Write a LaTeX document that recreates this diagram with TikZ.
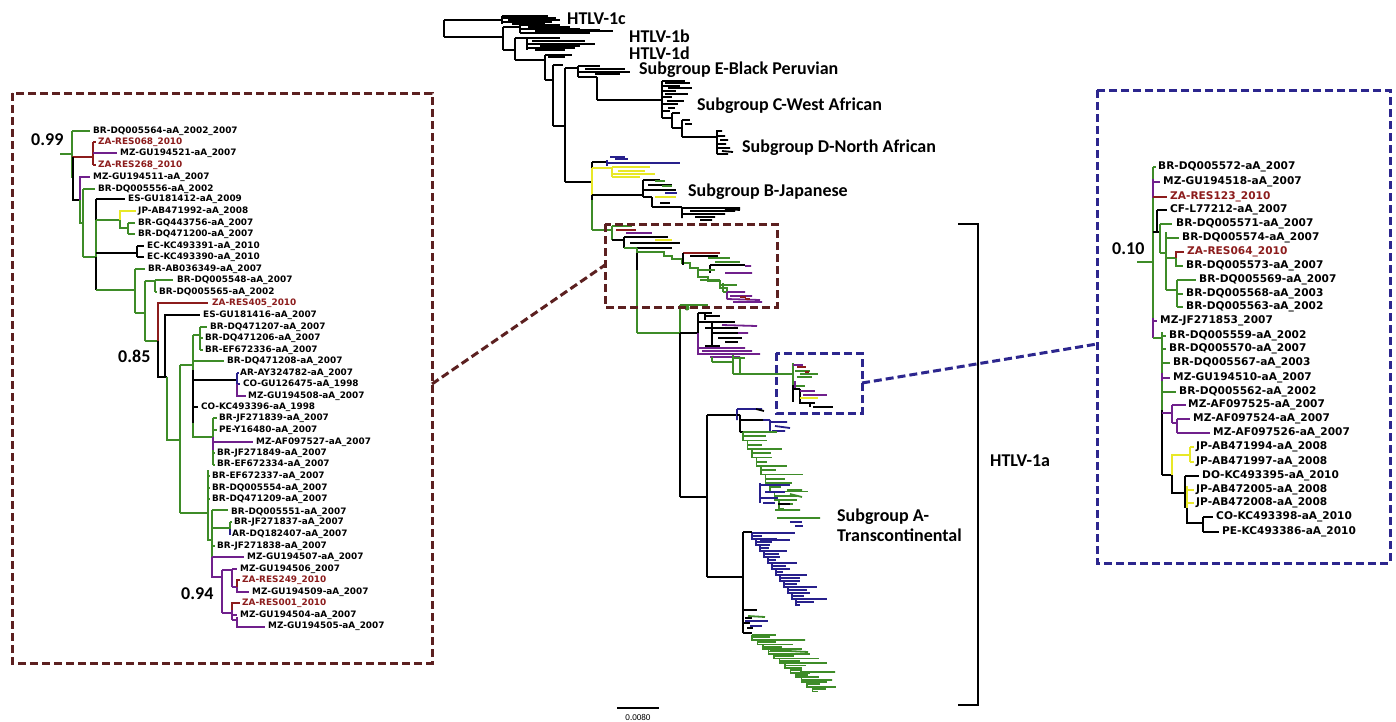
\documentclass[tikz,border=0pt]{standalone}
\usepackage{fontspec}
\newfontfamily\tipfont{DejaVu Sans}
\newfontfamily\labfont{Carlito}
\definecolor{tgreen}{RGB}{62,140,40}
\definecolor{tpurple}{RGB}{112,32,140}
\definecolor{tred}{RGB}{140,28,28}
\definecolor{tyellow}{RGB}{232,232,40}
\definecolor{tblue}{RGB}{40,32,140}
\definecolor{boxbrown}{RGB}{92,32,32}
\definecolor{boxblue}{RGB}{44,38,142}
\tikzset{
  kb/.style={draw=black,line width=1.5pt},
  gb/.style={draw=tgreen,line width=1.5pt},
  pb/.style={draw=tpurple,line width=1.5pt},
  rb/.style={draw=tred,line width=1.5pt},
  yb/.style={draw=tyellow,line width=1.5pt},
  bb/.style={draw=tblue,line width=1.5pt},
  km/.style={draw=black,line width=1.8pt},
  gm/.style={draw=tgreen,line width=1.8pt},
  pm/.style={draw=tpurple,line width=1.8pt},
  rm/.style={draw=tred,line width=1.8pt},
  ym/.style={draw=tyellow,line width=1.8pt},
  bm/.style={draw=tblue,line width=1.8pt},
  tipL/.style={font=\tipfont\bfseries\fontsize{8.9}{10}\selectfont,anchor=west,inner sep=0pt},
  tipR/.style={font=\tipfont\bfseries\fontsize{10.6}{12}\selectfont,anchor=west,inner sep=0pt},
  grp/.style={font=\labfont\bfseries\fontsize{18}{20}\selectfont,anchor=west,inner sep=0pt},
  boot/.style={font=\labfont\bfseries\fontsize{18}{20}\selectfont,anchor=west,inner sep=0pt},
  dashbox/.style={line width=3pt,dash pattern=on 8pt off 4pt},
}
\newcommand{\phyladder}[8]{%
  \foreach \i in {1,...,#4}{%
    \pgfmathsetmacro\lxa{#2+(\i-1)*#5}%
    \pgfmathsetmacro\lya{#3+(\i-1)*#6}%
    \pgfmathsetmacro\lxb{#2+\i*#5}%
    \pgfmathsetmacro\lyb{#3+\i*#6}%
    \pgfmathsetmacro\lym{#3+(\i-0.5)*#6}%
    \pgfmathsetmacro\ltl{#7+mod(\i*37+11,#8)}%
    \pgfmathsetmacro\lts{0.5*\ltl+mod(\i*13,7)}%
    \draw[#1] (\lxa,\lya) -- (\lxa,\lyb) -- (\lxb,\lyb);%
    \draw[#1] (\lxa,\lya) -- ++(\ltl,0);%
    \draw[#1] (\lxa,\lym) -- ++(\lts,0);%
  }%
}
\begin{document}
\begin{tikzpicture}[x=1pt,y=-1pt]
\useasboundingbox (0,0) rectangle (1396,721);
\fill[white] (0,0) rectangle (1396,721);

% ================= MAIN TREE =================
\draw[km] (444,20)--(444,37) (444,20)--(502,20) (444,37)--(503,37);
\draw[km] (502,16)--(502,24) (502,16)--(548,16) (502,18)--(556,18) (508,20)--(560,20) (502,22)--(552,22) (512,24)--(545,24);
\draw[km] (503,27)--(503,50) (503,27)--(520,27) (520,25)--(520,33) (520,25)--(560,25) (528,27)--(570,27) (520,29)--(580,29) (535,31)--(613,31) (520,33)--(590,33) (545,30)--(600,30);
\draw[km] (503,50)--(515,50) (515,38)--(515,60) (515,38)--(527,38) (527,38)--(527,50) (527,38)--(560,38) (532,41)--(585,41) (527,44)--(595,44) (540,46)--(580,46) (527,48)--(575,48) (535,50)--(565,50);
\draw[km] (515,60)--(545,60) (545,55)--(545,80) (545,55)--(572,55) (548,57)--(565,57) (545,80)--(553,80) (553,65)--(553,126) (553,65)--(563,65) (553,126)--(565,126) (565,68)--(565,182) (565,68)--(578,68) (565,182)--(592,182);
\draw[km] (578,66)--(578,77) (578,66)--(600,66) (585,69)--(625,69) (578,72)--(630,72) (595,74)--(620,74) (578,77)--(597,77) (597,77)--(597,100) (597,100)--(662,100);
\draw[km] (662,81)--(662,118) (662,81)--(685,81) (665,83)--(690,83) (662,86)--(680,86) (668,88)--(692,88) (662,91)--(676,91) (665,94)--(688,94) (662,97)--(672,97) (667,101)--(684,101) (662,104)--(678,104) (668,108)--(675,108) (662,111)--(670,111) (662,118)--(672,118) (672,113)--(672,128) (672,113)--(680,113) (672,128)--(682,128) (682,120)--(682,137) (682,120)--(690,120) (685,124)--(692,124) (682,137)--(717,137);
\draw[km] (717,130)--(717,154) (717,131)--(722,131) (717,136)--(725,136) (720,140)--(728,140) (717,144)--(726,144) (717,148)--(730,148) (722,151)--(733,152) (717,154)--(728,154);
% subgroup B
\draw[km] (592,162)--(592,200) (592,162)--(607,162);
\draw[gm] (592,200)--(592,230);
\draw[bm] (607,163)--(680,163) (610,157)--(625,157) (615,159)--(628,159) (607,160)--(607,166);
\draw[ym] (592,168)--(612,168) (612,167)--(612,177) (612,167)--(650,167) (618,171)--(645,171) (612,174)--(655,174) (612,177)--(640,177) (592,168)--(592,195);
\draw[km] (592,195)--(643,195) (643,180)--(643,197) (643,180)--(660,180) (648,185)--(672,185) (643,190)--(676,190) (652,197)--(652,207) (643,197)--(652,197) (652,207)--(682,207) (660,203)--(670,203);
\draw[gm] (655,181)--(665,181) (662,186)--(672,186);
\draw[bm] (665,193)--(677,193);
\draw[ym] (655,197)--(676,197);
\draw[km] (682,207)--(682,218) (682,208)--(740,208) (690,211)--(735,211) (682,214)--(725,214) (695,217)--(715,217) (700,220)--(712,220) (725,209)--(740,210);
% subgroup A: brown rectangle part
\draw[gm] (592,230)--(612,230) (612,226)--(612,240) (612,226)--(632,226);
\draw[rm] (616,230)--(636,230);
\draw[pm] (626,233)--(652,233);
\draw[km] (612,240)--(624,240) (624,237)--(624,248) (624,237)--(668,237) (630,243)--(680,243) (624,248)--(672,248);
\draw[ym] (655,240)--(672,240);
\draw[gm] (624,248)--(637,248) (637,248)--(637,333) (637,252) -| (664,256) -| (672,259) -| (682,263) -| (690,268) -| (698,277) -| (708,281) -| (720,288) -| (727,292);
\draw[km] (637,253)--(637,270);
\draw[rm] (683,253)--(720,253);
\draw[km] (683,253)--(683,265) (690,256)--(718,256) (710,265)--(745,265) (710,265)--(710,273);
\draw[gm] (708,258)--(730,258) (715,262)--(740,262) (700,280)--(720,280) (720,285)--(737,285) (723,283)--(723,292) (723,292)--(737,292) (698,270)--(715,270);
\draw[pm] (745,266)--(751,266) (725,273)--(752,273) (727,292)--(727,299) (727,292)--(745,292) (730,296)--(752,296) (727,299)--(760,300) (733,302)--(762,302);
\draw[rm] (740,297)--(746,297) (745,299)--(750,299);
% middle part
\draw[gm] (637,333)--(680,333) (680,305)--(680,333) (680,305)--(708,305);
\fill[tgreen] (687,308) circle (2.5);
\draw[km] (680,333)--(698,333) (698,313)--(698,333) (680,333)--(680,497);
\draw[pm] (698,333)--(698,355);
\draw[km] (698,313)--(712,313) (705,313)--(705,320) (705,316)--(720,316) (698,322)--(735,322) (705,328)--(738,328) (712,333)--(745,333) (718,338)--(742,338) (725,342)--(738,342) (712,322)--(712,345) (705,346)--(720,346);
\draw[pm] (722,325)--(757,326) (738,333)--(748,333) (698,348)--(745,348) (702,351)--(752,351) (698,354)--(760,354) (710,357)--(740,357);
\draw[gm] (712,357)--(712,362) (712,362)--(733,362) (733,355)--(733,374) (740,358)--(740,374) (733,358)--(745,358) (733,374)--(793,374);
% clade in blue rectangle
\draw[gm] (793,363)--(793,385) (795,371)--(810,371) (800,374)--(818,374) (797,377)--(812,377) (795,386)--(805,386);
\draw[km] (793,385)--(793,402) (800,389)--(800,404) (793,389)--(800,389) (800,403)--(815,403) (810,403)--(810,407) (813,407)--(833,407);
\draw[pm] (793,365)--(803,365) (795,381)--(795,388) (800,391)--(815,391) (803,395)--(827,395);
\draw[rm] (797,367)--(806,367) (805,372)--(809,372);
\draw[ym] (800,398)--(818,398);
% lower part of subgroup A
\draw[km] (680,497)--(707,497) (707,415)--(707,577) (707,415)--(737,415) (707,577)--(743,577) (743,532)--(743,633);
\draw[bm] (737,409)--(737,420) (737,409)--(762,409) (770,420)--(770,432) (763,420)--(770,420) (770,422)--(787,422) (775,426)--(790,428) (772,431)--(785,431);
\draw[km] (756,409)--(764,411) (737,415)--(740,415) (740,415)--(740,432) (740,420)--(763,420) (740,432)--(743,432);
\phyladder{gm}{743}{432}{9}{4.5}{8.5}{12}{26}
\draw[bm] (760,483)--(760,503) (760,485)--(790,485) (765,492)--(785,492) (760,498)--(778,498) (763,503)--(775,503) (790,522)--(802,522) (795,526)--(803,526);
\draw[km] (778,504)--(790,504);
\draw[gm] (775,510)--(800,510) (777,518)--(820,518) (787,490)--(802,490) (790,494)--(802,497);
% blue clade
\draw[km] (743,532)--(752,532);
\phyladder{bm}{752}{533}{12}{4}{6}{8}{24}
\draw[bm] (752,533)--(795,533) (760,540)--(790,540);
% bottom
\draw[km] (743,610)--(757,610) (745,618)--(752,618) (743,623)--(750,623) (743,633)--(752,633) (747,628)--(753,628);
\draw[gm] (748,616)--(765,617);
\draw[bm] (745,621)--(768,621) (750,626)--(762,626);
\phyladder{gm}{752}{635}{12}{5.5}{4.7}{10}{34}
\draw[gm] (760,640)--(805,640) (770,650)--(808,652) (800,672)--(835,672) (810,680)--(832,680);

% HTLV-1a bracket
\draw[black,line width=2.5pt] (958,224)--(978,224)--(978,705)--(958,705);
% scale bar
\draw[black,line width=1.5pt] (617,708)--(659,708);
\node[font=\labfont\fontsize{9}{10}\selectfont,inner sep=0pt] (scale) at (638,717) {0.0080};

% main labels
\node[grp] (h1c) at (567,19) {HTLV-1c};
\node[grp] (h1b) at (629,36) {HTLV-1b};
\node[grp] (h1d) at (629,53) {HTLV-1d};
\node[grp] (sgE) at (639,70) {Subgroup E-Black Peruvian};
\node[grp] (sgC) at (697,106) {Subgroup C-West African};
\node[grp] (sgD) at (742,148) {Subgroup D-North African};
\node[grp] (sgB) at (688,192) {Subgroup B-Japanese};
\node[grp,align=left] (sgA) at (837,525) {Subgroup A-\\Transcontinental};
\node[grp] (h1a) at (990,461) {HTLV-1a};

% ================= BOXES =================
\draw[boxbrown,dashbox] (12,93) rectangle (432,663);
\draw[boxbrown,dashbox] (605,224) rectangle (777,307);
\draw[boxblue,dashbox] (1097,90) rectangle (1390,563);
\draw[boxblue,dashbox] (776,353) rectangle (862,413);
\coordinate (bigL) at (432,384);
\coordinate (smallL) at (605,265);
\coordinate (smallR) at (862,383);
\coordinate (bigR) at (1097,344);
\draw[boxbrown,dashbox] (bigL)--(smallL);
\draw[boxblue,dashbox] (smallR)--(bigR);

% ================= LEFT INSET =================
\draw[gb] (60,154)--(72,154) (72,131)--(72,178) (72,131)--(90,131);
\draw[rb] (72,157)--(93,157) (93,142)--(93,165) (93,142)--(96,142) (93,165)--(96,165);
\draw[pb] (93,153)--(117,153);
\draw[kb] (73,157)--(73,200)--(80,200);
\draw[pb] (80,200)--(80,177)--(90,177);
\draw[gb] (80,200)--(80,223)--(83,223) (83,189)--(83,257) (83,189)--(95,189) (83,257)--(96,257);
\draw[kb] (96,199)--(96,220) (96,257)--(96,290) (96,199)--(125,199);
\draw[gb] (96,220)--(96,257) (96,220)--(120,220)--(120,228)--(128,228) (128,223)--(128,234) (128,223)--(135,223) (128,234)--(135,234);
\draw[yb] (120,220)--(120,211)--(136,211);
\draw[kb] (96,253)--(137,253) (137,246)--(137,257) (137,246)--(144,246) (137,257)--(144,257);
\draw[gb] (96,290)--(135,290) (135,269)--(135,313) (135,269)--(145,269) (135,313)--(145,313) (145,281)--(145,341) (145,281)--(155,281) (155,280)--(155,292) (155,280)--(173,280) (155,292)--(157,292) (145,341)--(158,341);
\draw[rb] (158,341)--(158,303)--(208,303);
\draw[kb] (158,341)--(158,377)--(167,377) (165,377)--(165,315)--(200,315);
\draw[gb] (167,377)--(167,440)--(180,440) (180,365)--(180,513) (180,365)--(193,365) (193,335)--(193,370) (193,335)--(200,335) (200,327)--(200,350) (200,327)--(207,327) (200,338)--(203,338) (200,350)--(203,350) (193,361)--(224,361);
\draw[kb] (193,370)--(193,423) (193,380)--(237,380) (193,407)--(198,407);
\draw[bb] (237,373)--(237,384) (237,373)--(239,373) (237,384)--(240,384);
\draw[pb] (237,384)--(237,396)--(246,396);
\draw[gb] (193,423)--(193,437)--(213,437) (213,418)--(213,465) (213,418)--(217,418) (213,430)--(217,430) (213,453)--(215,453) (213,465)--(215,465);
\draw[pb] (213,437)--(213,450) (213,442)--(253,442);
\draw[gb] (180,513)--(208,513) (208,470)--(208,540)--(212,540) (208,476)--(210,476) (208,488)--(210,488) (208,499)--(210,499) (212,510)--(212,557) (212,510)--(228,510) (212,528)--(230,528) (230,522)--(230,529) (230,522)--(232,522) (212,546)--(215,546);
\draw[bb] (230,529)--(230,534)--(231,534);
\draw[pb] (212,557)--(212,577)--(222,577) (212,557)--(244,557) (222,570)--(222,613) (222,570)--(232,570) (232,569)--(232,587) (232,569)--(237,569) (232,587)--(237,587)--(237,592)--(249,592) (222,613)--(232,613) (232,610)--(232,620) (232,615)--(237,615) (232,620)--(237,620) (237,617)--(237,627)--(265,627);
\draw[rb] (237,587)--(237,580)--(240,580) (232,610)--(232,603)--(240,603);

\node[boot] (b99) at (31,140) {0.99};
\node[boot] (b85) at (118,356) {0.85};
\node[boot] (b94) at (181,594) {0.94};

\node[tipL] (L1) at (93,131) {BR-DQ005564-aA\_2002\_2007};
\node[tipL,text=tred] (L2) at (98,142) {ZA-RES068\_2010};
\node[tipL] (L3) at (120,153) {MZ-GU194521-aA\_2007};
\node[tipL,text=tred] (L4) at (98,165) {ZA-RES268\_2010};
\node[tipL] (L5) at (93,177) {MZ-GU194511-aA\_2007};
\node[tipL] (L6) at (98,189) {BR-DQ005556-aA\_2002};
\node[tipL] (L7) at (128,199) {ES-GU181412-aA\_2009};
\node[tipL] (L8) at (138,211) {JP-AB471992-aA\_2008};
\node[tipL] (L9) at (138,223) {BR-GQ443756-aA\_2007};
\node[tipL] (L10) at (138,234) {BR-DQ471200-aA\_2007};
\node[tipL] (L11) at (147,246) {EC-KC493391-aA\_2010};
\node[tipL] (L12) at (147,257) {EC-KC493390-aA\_2010};
\node[tipL] (L13) at (148,269) {BR-AB036349-aA\_2007};
\node[tipL] (L14) at (177,280) {BR-DQ005548-aA\_2007};
\node[tipL] (L15) at (159,292) {BR-DQ005565-aA\_2002};
\node[tipL,text=tred] (L16) at (212,303) {ZA-RES405\_2010};
\node[tipL] (L17) at (203,315) {ES-GU181416-aA\_2007};
\node[tipL] (L18) at (210,327) {BR-DQ471207-aA\_2007};
\node[tipL] (L19) at (205,338) {BR-DQ471206-aA\_2007};
\node[tipL] (L20) at (205,350) {BR-EF672336-aA\_2007};
\node[tipL] (L21) at (227,361) {BR-DQ471208-aA\_2007};
\node[tipL] (L22) at (240,373) {AR-AY324782-aA\_2007};
\node[tipL] (L23) at (243,384) {CO-GU126475-aA\_1998};
\node[tipL] (L24) at (248,396) {MZ-GU194508-aA\_2007};
\node[tipL] (L25) at (201,407) {CO-KC493396-aA\_1998};
\node[tipL] (L26) at (219,418) {BR-JF271839-aA\_2007};
\node[tipL] (L27) at (219,430) {PE-Y16480-aA\_2007};
\node[tipL] (L28) at (256,442) {MZ-AF097527-aA\_2007};
\node[tipL] (L29) at (217,453) {BR-JF271849-aA\_2007};
\node[tipL] (L30) at (217,464) {BR-EF672334-aA\_2007};
\node[tipL] (L31) at (212,476) {BR-EF672337-aA\_2007};
\node[tipL] (L32) at (212,488) {BR-DQ005554-aA\_2007};
\node[tipL] (L33) at (212,499) {BR-DQ471209-aA\_2007};
\node[tipL] (L34) at (231,512) {BR-DQ005551-aA\_2007};
\node[tipL] (L35) at (234,522) {BR-JF271837-aA\_2007};
\node[tipL] (L36) at (232,534) {AR-DQ182407-aA\_2007};
\node[tipL] (L37) at (217,546) {BR-JF271838-aA\_2007};
\node[tipL] (L38) at (247,557) {MZ-GU194507-aA\_2007};
\node[tipL] (L39) at (240,569) {MZ-GU194506\_2007};
\node[tipL,text=tred] (L40) at (242,580) {ZA-RES249\_2010};
\node[tipL] (L41) at (252,592) {MZ-GU194509-aA\_2007};
\node[tipL,text=tred] (L42) at (242,603) {ZA-RES001\_2010};
\node[tipL] (L43) at (240,615) {MZ-GU194504-aA\_2007};
\node[tipL] (L44) at (268,626) {MZ-GU194505-aA\_2007};

% ================= RIGHT INSET =================
\draw[gb] (1137,262)--(1153,262) (1153,167)--(1153,338) (1153,167)--(1156,167);
\draw[pb] (1153,179)--(1153,198) (1153,182)--(1160,182);
\draw[rb] (1153,197)--(1167,197);
\draw[kb] (1153,232)--(1160,232) (1157,210)--(1157,232) (1157,210)--(1167,210);
\draw[gb] (1160,224)--(1160,253) (1160,224)--(1172,224) (1160,253)--(1166,253) (1166,232)--(1166,290) (1166,238)--(1179,238) (1166,258)--(1176,258) (1176,258)--(1176,266)--(1183,266) (1166,290)--(1177,290) (1177,280)--(1177,307) (1177,280)--(1196,280) (1177,294)--(1183,294) (1177,307)--(1183,307);
\draw[rb] (1176,258)--(1176,252)--(1184,252);
\draw[pb] (1153,318)--(1153,338) (1153,321)--(1157,321);
\draw[gb] (1153,338)--(1162,338) (1162,332)--(1162,410) (1162,336)--(1166,336) (1162,349)--(1166,349) (1162,363)--(1170,363) (1162,392)--(1176,392);
\draw[pb] (1162,373)--(1162,381) (1162,378)--(1170,378);
\draw[kb] (1162,410)--(1162,475);
\draw[pb] (1162,413)--(1172,413) (1172,405)--(1172,423) (1172,405)--(1186,405) (1172,423)--(1177,423) (1177,419)--(1177,433) (1177,419)--(1190,419) (1177,433)--(1210,433);
\draw[kb] (1162,475)--(1172,475);
\draw[yb] (1172,475)--(1172,455)--(1190,455) (1190,447)--(1190,462) (1190,447)--(1194,447) (1190,462)--(1194,462);
\draw[kb] (1172,475)--(1172,493)--(1185,493) (1185,476)--(1185,508) (1185,476)--(1199,476) (1187,508)--(1187,523)--(1203,523) (1203,517)--(1203,532) (1203,517)--(1213,517) (1203,532)--(1219,532);
\draw[yb] (1187,486)--(1187,508) (1187,490)--(1194,490) (1187,503)--(1194,503);

\node[boot] (b10) at (1112,249) {0.10};

\node[tipR] (R1) at (1158,167) {BR-DQ005572-aA\_2007};
\node[tipR] (R2) at (1163,182) {MZ-GU194518-aA\_2007};
\node[tipR,text=tred] (R3) at (1170,197) {ZA-RES123\_2010};
\node[tipR] (R4) at (1170,210) {CF-L77212-aA\_2007};
\node[tipR] (R5) at (1176,224) {BR-DQ005571-aA\_2007};
\node[tipR] (R6) at (1182,238) {BR-DQ005574-aA\_2007};
\node[tipR,text=tred] (R7) at (1187,252) {ZA-RES064\_2010};
\node[tipR] (R8) at (1186,266) {BR-DQ005573-aA\_2007};
\node[tipR] (R9) at (1199,280) {BR-DQ005569-aA\_2007};
\node[tipR] (R10) at (1186,294) {BR-DQ005568-aA\_2003};
\node[tipR] (R11) at (1186,307) {BR-DQ005563-aA\_2002};
\node[tipR] (R12) at (1160,321) {MZ-JF271853\_2007};
\node[tipR] (R13) at (1169,336) {BR-DQ005559-aA\_2002};
\node[tipR] (R14) at (1169,349) {BR-DQ005570-aA\_2007};
\node[tipR] (R15) at (1173,363) {BR-DQ005567-aA\_2003};
\node[tipR] (R16) at (1173,378) {MZ-GU194510-aA\_2007};
\node[tipR] (R17) at (1179,392) {BR-DQ005562-aA\_2002};
\node[tipR] (R18) at (1188,405) {MZ-AF097525-aA\_2007};
\node[tipR] (R19) at (1193,419) {MZ-AF097524-aA\_2007};
\node[tipR] (R20) at (1213,433) {MZ-AF097526-aA\_2007};
\node[tipR] (R21) at (1196,447) {JP-AB471994-aA\_2008};
\node[tipR] (R22) at (1196,462) {JP-AB471997-aA\_2008};
\node[tipR] (R23) at (1202,476) {DO-KC493395-aA\_2010};
\node[tipR] (R24) at (1196,490) {JP-AB472005-aA\_2008};
\node[tipR] (R25) at (1196,503) {JP-AB472008-aA\_2008};
\node[tipR] (R26) at (1216,517) {CO-KC493398-aA\_2010};
\node[tipR] (R27) at (1222,532) {PE-KC493386-aA\_2010};
\end{tikzpicture}
\end{document}
